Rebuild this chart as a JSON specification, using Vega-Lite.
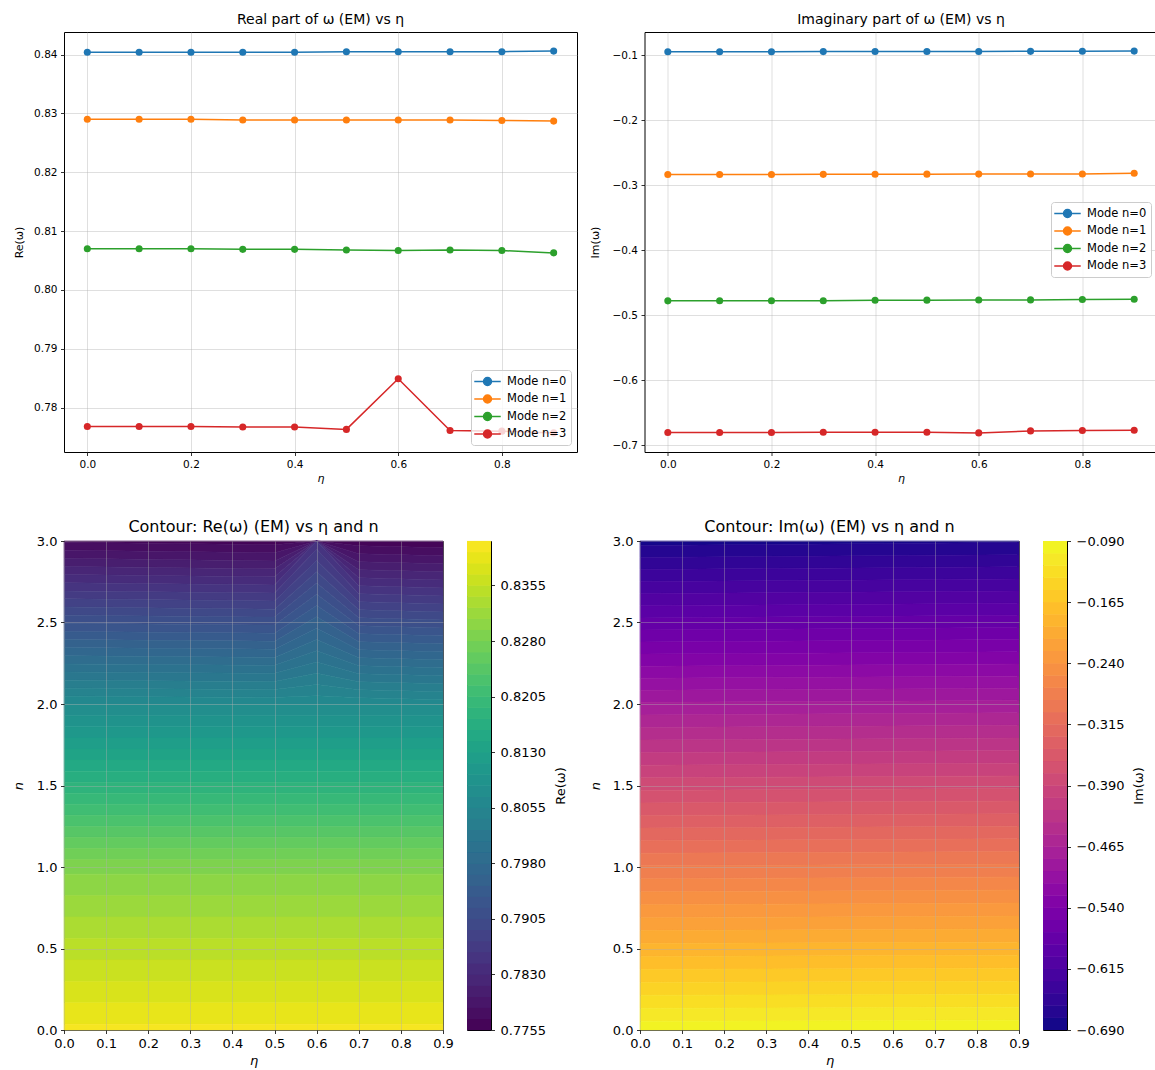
{
"$schema": "https://vega.github.io/schema/vega-lite/v6.json",
"background": "white",
"padding": {"left": 12, "top": 12, "right": 0, "bottom": 0},
"config": {
  "font": "DejaVu Sans",
  "view": {"stroke": "#000000", "strokeWidth": 1},
  "axis": {"domain": false, "tickColor": "#000000", "tickSize": 3.5, "tickWidth": 0.8, "labelColor": "#000000", "titleColor": "#000000", "titleFontWeight": "normal", "labelPadding": 3.5, "labelFlush": false, "labelOverlap": false, "gridColor": "#b0b0b0", "gridOpacity": 0.5, "gridWidth": 0.8},
  "title": {"fontWeight": "normal", "color": "#000000", "anchor": "middle"}
},
"datasets": {
  "modes": [
    {"eta":0,"mode":"Mode n=0","re":0.8404,"im":-0.0949},{"eta":0.1,"mode":"Mode n=0","re":0.8404,"im":-0.0948},{"eta":0.2,"mode":"Mode n=0","re":0.8404,"im":-0.0947},{"eta":0.3,"mode":"Mode n=0","re":0.8404,"im":-0.0946},{"eta":0.4,"mode":"Mode n=0","re":0.8404,"im":-0.0945},{"eta":0.5,"mode":"Mode n=0","re":0.8405,"im":-0.0944},{"eta":0.6,"mode":"Mode n=0","re":0.8405,"im":-0.0943},{"eta":0.7,"mode":"Mode n=0","re":0.8405,"im":-0.0942},{"eta":0.8,"mode":"Mode n=0","re":0.8405,"im":-0.0941},{"eta":0.9,"mode":"Mode n=0","re":0.8406,"im":-0.0938},
    {"eta":0,"mode":"Mode n=1","re":0.8290,"im":-0.2836},{"eta":0.1,"mode":"Mode n=1","re":0.8290,"im":-0.2835},{"eta":0.2,"mode":"Mode n=1","re":0.8290,"im":-0.2835},{"eta":0.3,"mode":"Mode n=1","re":0.8289,"im":-0.2834},{"eta":0.4,"mode":"Mode n=1","re":0.8289,"im":-0.2833},{"eta":0.5,"mode":"Mode n=1","re":0.8289,"im":-0.2831},{"eta":0.6,"mode":"Mode n=1","re":0.8289,"im":-0.2830},{"eta":0.7,"mode":"Mode n=1","re":0.8289,"im":-0.2829},{"eta":0.8,"mode":"Mode n=1","re":0.8288,"im":-0.2828},{"eta":0.9,"mode":"Mode n=1","re":0.8287,"im":-0.2818},
    {"eta":0,"mode":"Mode n=2","re":0.8070,"im":-0.4780},{"eta":0.1,"mode":"Mode n=2","re":0.8070,"im":-0.4779},{"eta":0.2,"mode":"Mode n=2","re":0.8070,"im":-0.4778},{"eta":0.3,"mode":"Mode n=2","re":0.8069,"im":-0.4777},{"eta":0.4,"mode":"Mode n=2","re":0.8069,"im":-0.4770},{"eta":0.5,"mode":"Mode n=2","re":0.8068,"im":-0.4769},{"eta":0.6,"mode":"Mode n=2","re":0.8067,"im":-0.4768},{"eta":0.7,"mode":"Mode n=2","re":0.8068,"im":-0.4765},{"eta":0.8,"mode":"Mode n=2","re":0.8067,"im":-0.4760},{"eta":0.9,"mode":"Mode n=2","re":0.8063,"im":-0.4754},
    {"eta":0,"mode":"Mode n=3","re":0.7768,"im":-0.6805},{"eta":0.1,"mode":"Mode n=3","re":0.7768,"im":-0.6805},{"eta":0.2,"mode":"Mode n=3","re":0.7768,"im":-0.6805},{"eta":0.3,"mode":"Mode n=3","re":0.7767,"im":-0.6800},{"eta":0.4,"mode":"Mode n=3","re":0.7767,"im":-0.6800},{"eta":0.5,"mode":"Mode n=3","re":0.7763,"im":-0.6800},{"eta":0.6,"mode":"Mode n=3","re":0.7849,"im":-0.6811},{"eta":0.7,"mode":"Mode n=3","re":0.7761,"im":-0.6780},{"eta":0.8,"mode":"Mode n=3","re":0.7760,"im":-0.6774},{"eta":0.9,"mode":"Mode n=3","re":0.7757,"im":-0.6769}
  ],
  "reContour": [
    {"eta":0,"nLo":2.993,"nHi":3,"level":0.77625},{"eta":0.5,"nLo":2.977,"nHi":3,"level":0.77625},{"eta":0.6,"nLo":3,"nHi":3,"level":0.77625},{"eta":0.7,"nLo":2.971,"nHi":3,"level":0.77625},{"eta":0.9,"nLo":2.958,"nHi":3,"level":0.77625},
    {"eta":0,"nLo":2.944,"nHi":2.993,"level":0.77775},{"eta":0.5,"nLo":2.928,"nHi":2.977,"level":0.77775},{"eta":0.6,"nLo":3,"nHi":3,"level":0.77775},{"eta":0.7,"nLo":2.922,"nHi":2.971,"level":0.77775},{"eta":0.9,"nLo":2.909,"nHi":2.958,"level":0.77775},
    {"eta":0,"nLo":2.894,"nHi":2.944,"level":0.77925},{"eta":0.5,"nLo":2.878,"nHi":2.928,"level":0.77925},{"eta":0.6,"nLo":3,"nHi":3,"level":0.77925},{"eta":0.7,"nLo":2.873,"nHi":2.922,"level":0.77925},{"eta":0.9,"nLo":2.860,"nHi":2.909,"level":0.77925},
    {"eta":0,"nLo":2.844,"nHi":2.894,"level":0.78075},{"eta":0.5,"nLo":2.829,"nHi":2.878,"level":0.78075},{"eta":0.6,"nLo":3,"nHi":3,"level":0.78075},{"eta":0.7,"nLo":2.824,"nHi":2.873,"level":0.78075},{"eta":0.9,"nLo":2.811,"nHi":2.860,"level":0.78075},
    {"eta":0,"nLo":2.794,"nHi":2.844,"level":0.78225},{"eta":0.5,"nLo":2.780,"nHi":2.829,"level":0.78225},{"eta":0.6,"nLo":3,"nHi":3,"level":0.78225},{"eta":0.7,"nLo":2.775,"nHi":2.824,"level":0.78225},{"eta":0.9,"nLo":2.761,"nHi":2.811,"level":0.78225},
    {"eta":0,"nLo":2.744,"nHi":2.794,"level":0.78375},{"eta":0.5,"nLo":2.730,"nHi":2.780,"level":0.78375},{"eta":0.6,"nLo":3,"nHi":3,"level":0.78375},{"eta":0.7,"nLo":2.726,"nHi":2.775,"level":0.78375},{"eta":0.9,"nLo":2.712,"nHi":2.761,"level":0.78375},
    {"eta":0,"nLo":2.694,"nHi":2.744,"level":0.78525},{"eta":0.5,"nLo":2.681,"nHi":2.730,"level":0.78525},{"eta":0.6,"nLo":2.949,"nHi":3,"level":0.78525},{"eta":0.7,"nLo":2.677,"nHi":2.726,"level":0.78525},{"eta":0.9,"nLo":2.663,"nHi":2.712,"level":0.78525},
    {"eta":0,"nLo":2.645,"nHi":2.694,"level":0.78675},{"eta":0.5,"nLo":2.632,"nHi":2.681,"level":0.78675},{"eta":0.6,"nLo":2.880,"nHi":2.949,"level":0.78675},{"eta":0.7,"nLo":2.628,"nHi":2.677,"level":0.78675},{"eta":0.9,"nLo":2.614,"nHi":2.663,"level":0.78675},
    {"eta":0,"nLo":2.595,"nHi":2.645,"level":0.78825},{"eta":0.5,"nLo":2.582,"nHi":2.632,"level":0.78825},{"eta":0.6,"nLo":2.811,"nHi":2.880,"level":0.78825},{"eta":0.7,"nLo":2.578,"nHi":2.628,"level":0.78825},{"eta":0.9,"nLo":2.565,"nHi":2.614,"level":0.78825},
    {"eta":0,"nLo":2.545,"nHi":2.595,"level":0.78975},{"eta":0.5,"nLo":2.533,"nHi":2.582,"level":0.78975},{"eta":0.6,"nLo":2.742,"nHi":2.811,"level":0.78975},{"eta":0.7,"nLo":2.529,"nHi":2.578,"level":0.78975},{"eta":0.9,"nLo":2.516,"nHi":2.565,"level":0.78975},
    {"eta":0,"nLo":2.495,"nHi":2.545,"level":0.79125},{"eta":0.5,"nLo":2.484,"nHi":2.533,"level":0.79125},{"eta":0.6,"nLo":2.673,"nHi":2.742,"level":0.79125},{"eta":0.7,"nLo":2.480,"nHi":2.529,"level":0.79125},{"eta":0.9,"nLo":2.467,"nHi":2.516,"level":0.79125},
    {"eta":0,"nLo":2.445,"nHi":2.495,"level":0.79275},{"eta":0.5,"nLo":2.434,"nHi":2.484,"level":0.79275},{"eta":0.6,"nLo":2.604,"nHi":2.673,"level":0.79275},{"eta":0.7,"nLo":2.431,"nHi":2.480,"level":0.79275},{"eta":0.9,"nLo":2.418,"nHi":2.467,"level":0.79275},
    {"eta":0,"nLo":2.395,"nHi":2.445,"level":0.79425},{"eta":0.5,"nLo":2.385,"nHi":2.434,"level":0.79425},{"eta":0.6,"nLo":2.535,"nHi":2.604,"level":0.79425},{"eta":0.7,"nLo":2.382,"nHi":2.431,"level":0.79425},{"eta":0.9,"nLo":2.369,"nHi":2.418,"level":0.79425},
    {"eta":0,"nLo":2.346,"nHi":2.395,"level":0.79575},{"eta":0.5,"nLo":2.336,"nHi":2.385,"level":0.79575},{"eta":0.6,"nLo":2.465,"nHi":2.535,"level":0.79575},{"eta":0.7,"nLo":2.333,"nHi":2.382,"level":0.79575},{"eta":0.9,"nLo":2.320,"nHi":2.369,"level":0.79575},
    {"eta":0,"nLo":2.296,"nHi":2.346,"level":0.79725},{"eta":0.5,"nLo":2.286,"nHi":2.336,"level":0.79725},{"eta":0.6,"nLo":2.396,"nHi":2.465,"level":0.79725},{"eta":0.7,"nLo":2.284,"nHi":2.333,"level":0.79725},{"eta":0.9,"nLo":2.271,"nHi":2.320,"level":0.79725},
    {"eta":0,"nLo":2.246,"nHi":2.296,"level":0.79875},{"eta":0.5,"nLo":2.237,"nHi":2.286,"level":0.79875},{"eta":0.6,"nLo":2.327,"nHi":2.396,"level":0.79875},{"eta":0.7,"nLo":2.235,"nHi":2.284,"level":0.79875},{"eta":0.9,"nLo":2.222,"nHi":2.271,"level":0.79875},
    {"eta":0,"nLo":2.196,"nHi":2.246,"level":0.80025},{"eta":0.5,"nLo":2.188,"nHi":2.237,"level":0.80025},{"eta":0.6,"nLo":2.258,"nHi":2.327,"level":0.80025},{"eta":0.7,"nLo":2.186,"nHi":2.235,"level":0.80025},{"eta":0.9,"nLo":2.173,"nHi":2.222,"level":0.80025},
    {"eta":0,"nLo":2.146,"nHi":2.196,"level":0.80175},{"eta":0.5,"nLo":2.138,"nHi":2.188,"level":0.80175},{"eta":0.6,"nLo":2.189,"nHi":2.258,"level":0.80175},{"eta":0.7,"nLo":2.137,"nHi":2.186,"level":0.80175},{"eta":0.9,"nLo":2.124,"nHi":2.173,"level":0.80175},
    {"eta":0,"nLo":2.096,"nHi":2.146,"level":0.80325},{"eta":0.5,"nLo":2.089,"nHi":2.138,"level":0.80325},{"eta":0.6,"nLo":2.120,"nHi":2.189,"level":0.80325},{"eta":0.7,"nLo":2.088,"nHi":2.137,"level":0.80325},{"eta":0.9,"nLo":2.075,"nHi":2.124,"level":0.80325},
    {"eta":0,"nLo":2.047,"nHi":2.096,"level":0.80475},{"eta":0.5,"nLo":2.040,"nHi":2.089,"level":0.80475},{"eta":0.6,"nLo":2.051,"nHi":2.120,"level":0.80475},{"eta":0.7,"nLo":2.039,"nHi":2.088,"level":0.80475},{"eta":0.9,"nLo":2.026,"nHi":2.075,"level":0.80475},
    {"eta":0,"nLo":1.996,"nHi":2.047,"level":0.80625},{"eta":0.5,"nLo":1.996,"nHi":2.040,"level":0.80625},{"eta":0.6,"nLo":1.996,"nHi":2.051,"level":0.80625},{"eta":0.7,"nLo":1.996,"nHi":2.039,"level":0.80625},{"eta":0.9,"nLo":1.996,"nHi":2.026,"level":0.80625},
    {"eta":0,"nLo":1.928,"nHi":1.996,"level":0.80775},{"eta":0.9,"nLo":1.928,"nHi":1.996,"level":0.80775},
    {"eta":0,"nLo":1.860,"nHi":1.928,"level":0.80925},{"eta":0.9,"nLo":1.860,"nHi":1.928,"level":0.80925},
    {"eta":0,"nLo":1.792,"nHi":1.860,"level":0.81075},{"eta":0.9,"nLo":1.792,"nHi":1.860,"level":0.81075},
    {"eta":0,"nLo":1.724,"nHi":1.792,"level":0.81225},{"eta":0.9,"nLo":1.724,"nHi":1.792,"level":0.81225},
    {"eta":0,"nLo":1.656,"nHi":1.724,"level":0.81375},{"eta":0.9,"nLo":1.656,"nHi":1.724,"level":0.81375},
    {"eta":0,"nLo":1.588,"nHi":1.656,"level":0.81525},{"eta":0.9,"nLo":1.588,"nHi":1.656,"level":0.81525},
    {"eta":0,"nLo":1.520,"nHi":1.588,"level":0.81675},{"eta":0.9,"nLo":1.520,"nHi":1.588,"level":0.81675},
    {"eta":0,"nLo":1.453,"nHi":1.520,"level":0.81825},{"eta":0.9,"nLo":1.453,"nHi":1.520,"level":0.81825},
    {"eta":0,"nLo":1.385,"nHi":1.453,"level":0.81975},{"eta":0.9,"nLo":1.385,"nHi":1.453,"level":0.81975},
    {"eta":0,"nLo":1.317,"nHi":1.385,"level":0.82125},{"eta":0.9,"nLo":1.317,"nHi":1.385,"level":0.82125},
    {"eta":0,"nLo":1.249,"nHi":1.317,"level":0.82275},{"eta":0.9,"nLo":1.249,"nHi":1.317,"level":0.82275},
    {"eta":0,"nLo":1.181,"nHi":1.249,"level":0.82425},{"eta":0.9,"nLo":1.181,"nHi":1.249,"level":0.82425},
    {"eta":0,"nLo":1.113,"nHi":1.181,"level":0.82575},{"eta":0.9,"nLo":1.113,"nHi":1.181,"level":0.82575},
    {"eta":0,"nLo":1.045,"nHi":1.113,"level":0.82725},{"eta":0.9,"nLo":1.045,"nHi":1.113,"level":0.82725},
    {"eta":0,"nLo":0.956,"nHi":1.045,"level":0.82875},{"eta":0.9,"nLo":0.956,"nHi":1.045,"level":0.82875},
    {"eta":0,"nLo":0.825,"nHi":0.956,"level":0.83025},{"eta":0.9,"nLo":0.825,"nHi":0.956,"level":0.83025},
    {"eta":0,"nLo":0.693,"nHi":0.825,"level":0.83175},{"eta":0.9,"nLo":0.693,"nHi":0.825,"level":0.83175},
    {"eta":0,"nLo":0.561,"nHi":0.693,"level":0.83325},{"eta":0.9,"nLo":0.561,"nHi":0.693,"level":0.83325},
    {"eta":0,"nLo":0.430,"nHi":0.561,"level":0.83475},{"eta":0.9,"nLo":0.430,"nHi":0.561,"level":0.83475},
    {"eta":0,"nLo":0.298,"nHi":0.430,"level":0.83625},{"eta":0.9,"nLo":0.298,"nHi":0.430,"level":0.83625},
    {"eta":0,"nLo":0.167,"nHi":0.298,"level":0.83775},{"eta":0.9,"nLo":0.167,"nHi":0.298,"level":0.83775},
    {"eta":0,"nLo":0.035,"nHi":0.167,"level":0.83925},{"eta":0.9,"nLo":0.035,"nHi":0.167,"level":0.83925},
    {"eta":0,"nLo":0,"nHi":0.035,"level":0.84075},{"eta":0.9,"nLo":0,"nHi":0.035,"level":0.84075}
  ],
  "imContour": [
    {"eta":0,"nLo":2.973,"nHi":3,"level":-0.6825},{"eta":0.9,"nLo":2.991,"nHi":3,"level":-0.6825},
    {"eta":0,"nLo":2.899,"nHi":2.973,"level":-0.6675},{"eta":0.9,"nLo":2.916,"nHi":2.991,"level":-0.6675},
    {"eta":0,"nLo":2.825,"nHi":2.899,"level":-0.6525},{"eta":0.9,"nLo":2.842,"nHi":2.916,"level":-0.6525},
    {"eta":0,"nLo":2.751,"nHi":2.825,"level":-0.6375},{"eta":0.9,"nLo":2.767,"nHi":2.842,"level":-0.6375},
    {"eta":0,"nLo":2.677,"nHi":2.751,"level":-0.6225},{"eta":0.9,"nLo":2.693,"nHi":2.767,"level":-0.6225},
    {"eta":0,"nLo":2.603,"nHi":2.677,"level":-0.6075},{"eta":0.9,"nLo":2.618,"nHi":2.693,"level":-0.6075},
    {"eta":0,"nLo":2.528,"nHi":2.603,"level":-0.5925},{"eta":0.9,"nLo":2.544,"nHi":2.618,"level":-0.5925},
    {"eta":0,"nLo":2.454,"nHi":2.528,"level":-0.5775},{"eta":0.9,"nLo":2.469,"nHi":2.544,"level":-0.5775},
    {"eta":0,"nLo":2.380,"nHi":2.454,"level":-0.5625},{"eta":0.9,"nLo":2.395,"nHi":2.469,"level":-0.5625},
    {"eta":0,"nLo":2.306,"nHi":2.380,"level":-0.5475},{"eta":0.9,"nLo":2.320,"nHi":2.395,"level":-0.5475},
    {"eta":0,"nLo":2.232,"nHi":2.306,"level":-0.5325},{"eta":0.9,"nLo":2.246,"nHi":2.320,"level":-0.5325},
    {"eta":0,"nLo":2.158,"nHi":2.232,"level":-0.5175},{"eta":0.9,"nLo":2.171,"nHi":2.246,"level":-0.5175},
    {"eta":0,"nLo":2.084,"nHi":2.158,"level":-0.5025},{"eta":0.9,"nLo":2.097,"nHi":2.171,"level":-0.5025},
    {"eta":0,"nLo":2.010,"nHi":2.084,"level":-0.4875},{"eta":0.9,"nLo":2.022,"nHi":2.097,"level":-0.4875},
    {"eta":0,"nLo":1.933,"nHi":2.010,"level":-0.4725},{"eta":0.9,"nLo":1.946,"nHi":2.022,"level":-0.4725},
    {"eta":0,"nLo":1.856,"nHi":1.933,"level":-0.4575},{"eta":0.9,"nLo":1.869,"nHi":1.946,"level":-0.4575},
    {"eta":0,"nLo":1.779,"nHi":1.856,"level":-0.4425},{"eta":0.9,"nLo":1.791,"nHi":1.869,"level":-0.4425},
    {"eta":0,"nLo":1.702,"nHi":1.779,"level":-0.4275},{"eta":0.9,"nLo":1.714,"nHi":1.791,"level":-0.4275},
    {"eta":0,"nLo":1.625,"nHi":1.702,"level":-0.4125},{"eta":0.9,"nLo":1.637,"nHi":1.714,"level":-0.4125},
    {"eta":0,"nLo":1.547,"nHi":1.625,"level":-0.3975},{"eta":0.9,"nLo":1.559,"nHi":1.637,"level":-0.3975},
    {"eta":0,"nLo":1.470,"nHi":1.547,"level":-0.3825},{"eta":0.9,"nLo":1.482,"nHi":1.559,"level":-0.3825},
    {"eta":0,"nLo":1.393,"nHi":1.470,"level":-0.3675},{"eta":0.9,"nLo":1.405,"nHi":1.482,"level":-0.3675},
    {"eta":0,"nLo":1.316,"nHi":1.393,"level":-0.3525},{"eta":0.9,"nLo":1.327,"nHi":1.405,"level":-0.3525},
    {"eta":0,"nLo":1.239,"nHi":1.316,"level":-0.3375},{"eta":0.9,"nLo":1.250,"nHi":1.327,"level":-0.3375},
    {"eta":0,"nLo":1.162,"nHi":1.239,"level":-0.3225},{"eta":0.9,"nLo":1.173,"nHi":1.250,"level":-0.3225},
    {"eta":0,"nLo":1.084,"nHi":1.162,"level":-0.3075},{"eta":0.9,"nLo":1.095,"nHi":1.173,"level":-0.3075},
    {"eta":0,"nLo":1.007,"nHi":1.084,"level":-0.2925},{"eta":0.9,"nLo":1.018,"nHi":1.095,"level":-0.2925},
    {"eta":0,"nLo":0.928,"nHi":1.007,"level":-0.2775},{"eta":0.9,"nLo":0.939,"nHi":1.018,"level":-0.2775},
    {"eta":0,"nLo":0.848,"nHi":0.928,"level":-0.2625},{"eta":0.9,"nLo":0.859,"nHi":0.939,"level":-0.2625},
    {"eta":0,"nLo":0.769,"nHi":0.848,"level":-0.2475},{"eta":0.9,"nLo":0.779,"nHi":0.859,"level":-0.2475},
    {"eta":0,"nLo":0.689,"nHi":0.769,"level":-0.2325},{"eta":0.9,"nLo":0.699,"nHi":0.779,"level":-0.2325},
    {"eta":0,"nLo":0.610,"nHi":0.689,"level":-0.2175},{"eta":0.9,"nLo":0.619,"nHi":0.699,"level":-0.2175},
    {"eta":0,"nLo":0.531,"nHi":0.610,"level":-0.2025},{"eta":0.9,"nLo":0.539,"nHi":0.619,"level":-0.2025},
    {"eta":0,"nLo":0.451,"nHi":0.531,"level":-0.1875},{"eta":0.9,"nLo":0.459,"nHi":0.539,"level":-0.1875},
    {"eta":0,"nLo":0.372,"nHi":0.451,"level":-0.1725},{"eta":0.9,"nLo":0.379,"nHi":0.459,"level":-0.1725},
    {"eta":0,"nLo":0.292,"nHi":0.372,"level":-0.1575},{"eta":0.9,"nLo":0.299,"nHi":0.379,"level":-0.1575},
    {"eta":0,"nLo":0.213,"nHi":0.292,"level":-0.1425},{"eta":0.9,"nLo":0.220,"nHi":0.299,"level":-0.1425},
    {"eta":0,"nLo":0.133,"nHi":0.213,"level":-0.1275},{"eta":0.9,"nLo":0.140,"nHi":0.220,"level":-0.1275},
    {"eta":0,"nLo":0.054,"nHi":0.133,"level":-0.1125},{"eta":0.9,"nLo":0.060,"nHi":0.140,"level":-0.1125},
    {"eta":0,"nLo":0,"nHi":0.054,"level":-0.0975},{"eta":0.9,"nLo":0,"nHi":0.060,"level":-0.0975}
  ]
},
"spacing": 34,
"vconcat": [
  {
    "hconcat": [
      {
        "width": 513, "height": 420,
        "title": {"text": "Real part of ω (EM) vs η", "fontSize": 14, "offset": 5},
        "data": {"name": "modes"},
        "encoding": {
          "x": {"field": "eta", "type": "quantitative", "scale": {"domain": [-0.045, 0.945], "nice": false, "zero": false}, "axis": {"values": [0, 0.2, 0.4, 0.6, 0.8], "format": ".1f", "title": "η", "titleFontStyle": "italic", "labelFontSize": 10.5, "titleFontSize": 11, "titlePadding": 3}},
          "y": {"field": "re", "type": "quantitative", "scale": {"domain": [0.772455, 0.843845], "nice": false, "zero": false}, "axis": {"values": [0.78, 0.79, 0.8, 0.81, 0.82, 0.83, 0.84], "format": ".2f", "title": "Re(ω)", "labelFontSize": 10.5, "titleFontSize": 11, "minExtent": 31, "maxExtent": 31, "titlePadding": 9}},
          "color": {"field": "mode", "type": "nominal", "scale": {"domain": ["Mode n=0", "Mode n=1", "Mode n=2", "Mode n=3"], "range": ["#1f77b4", "#ff7f0e", "#2ca02c", "#d62728"]}, "legend": {"title": null, "orient": "none", "legendX": 407, "legendY": 338, "fillColor": "rgba(255,255,255,0.8)", "strokeColor": "#cccccc", "cornerRadius": 3, "padding": 4, "labelFontSize": 11.5, "labelColor": "#000000", "symbolType": "M-2,0L2,0M-0.6,0A0.6,0.6,0,1,1,0.6,0A0.6,0.6,0,1,1,-0.6,0Z", "symbolSize": 175, "symbolStrokeWidth": 1.5, "symbolOpacity": 1, "rowPadding": 2.5, "labelOffset": 12, "symbolOffset": 5}}
        },
        "layer": [
          {"mark": {"type": "line", "strokeWidth": 1.5}},
          {"mark": {"type": "point", "filled": true, "size": 50, "opacity": 1}}
        ]
      },
      {
        "width": 513, "height": 420,
        "title": {"text": "Imaginary part of ω (EM) vs η", "fontSize": 14, "offset": 5},
        "data": {"name": "modes"},
        "encoding": {
          "x": {"field": "eta", "type": "quantitative", "scale": {"domain": [-0.045, 0.945], "nice": false, "zero": false}, "axis": {"values": [0, 0.2, 0.4, 0.6, 0.8], "format": ".1f", "title": "η", "titleFontStyle": "italic", "labelFontSize": 10.5, "titleFontSize": 11, "titlePadding": 3}},
          "y": {"field": "im", "type": "quantitative", "scale": {"domain": [-0.71047, -0.06443], "nice": false, "zero": false}, "axis": {"values": [-0.7, -0.6, -0.5, -0.4, -0.3, -0.2, -0.1], "format": ".1f", "title": "Im(ω)", "labelFontSize": 10.5, "titleFontSize": 11, "minExtent": 34, "maxExtent": 34, "titlePadding": 9.6}},
          "color": {"field": "mode", "type": "nominal", "scale": {"domain": ["Mode n=0", "Mode n=1", "Mode n=2", "Mode n=3"], "range": ["#1f77b4", "#ff7f0e", "#2ca02c", "#d62728"]}, "legend": {"title": null, "orient": "none", "legendX": 406.5, "legendY": 170, "fillColor": "rgba(255,255,255,0.8)", "strokeColor": "#cccccc", "cornerRadius": 3, "padding": 4, "labelFontSize": 11.5, "labelColor": "#000000", "symbolType": "M-2,0L2,0M-0.6,0A0.6,0.6,0,1,1,0.6,0A0.6,0.6,0,1,1,-0.6,0Z", "symbolSize": 175, "symbolStrokeWidth": 1.5, "symbolOpacity": 1, "rowPadding": 2.5, "labelOffset": 12, "symbolOffset": 5}}
        },
        "layer": [
          {"mark": {"type": "line", "strokeWidth": 1.5}},
          {"mark": {"type": "point", "filled": true, "size": 50, "opacity": 1}}
        ]
      }
    ],
    "spacing": 10.5,
    "resolve": {"scale": {"color": "independent", "x": "independent", "y": "independent"}, "legend": {"color": "independent"}}
  },
  {
    "hconcat": [
      {
        "hconcat": [
          {
            "width": 379, "height": 489,
            "title": {"text": "Contour: Re(ω) (EM) vs η and n", "fontSize": 16, "offset": 0},
            "data": {"name": "reContour"},
            "mark": {"type": "area", "strokeWidth": 0.6},
            "encoding": {
              "x": {"field": "eta", "type": "quantitative", "scale": {"domain": [0, 0.9], "nice": false, "zero": false}, "axis": {"values": [0, 0.1, 0.2, 0.3, 0.4, 0.5, 0.6, 0.7, 0.8, 0.9], "format": ".1f", "title": "η", "titleFontStyle": "italic", "labelFontSize": 13, "titleFontSize": 13, "titlePadding": 4, "zindex": 1}},
              "y": {"field": "nLo", "type": "quantitative", "stack": null, "scale": {"domain": [0, 3], "nice": false, "zero": false}, "axis": {"values": [0, 0.5, 1, 1.5, 2, 2.5, 3], "format": ".1f", "title": "n", "titleFontStyle": "italic", "labelFontSize": 13, "titleFontSize": 13, "minExtent": 28, "maxExtent": 28, "titlePadding": 10.5, "zindex": 1}},
              "y2": {"field": "nHi"},
              "color": {"field": "level", "type": "quantitative", "scale": {"scheme": "viridis", "domain": [0.7755, 0.8415]}, "legend": null},
              "stroke": {"field": "level", "type": "quantitative", "scale": {"scheme": "viridis", "domain": [0.7755, 0.8415]}, "legend": null},
              "detail": {"field": "level", "type": "nominal"}
            }
          },
          {
            "width": 24, "height": 489,
            "data": {"name": "reContour"},
            "mark": {"type": "rule", "strokeWidth": 11.2},
            "encoding": {
              "y": {"field": "level", "type": "quantitative", "scale": {"domain": [0.7755, 0.8415], "nice": false, "zero": false}, "axis": {"orient": "right", "values": [0.7755, 0.783, 0.7905, 0.798, 0.8055, 0.813, 0.8205, 0.828, 0.8355], "format": ".4f", "title": "Re(ω)", "titleAngle": -90, "titleBaseline": "top", "labelFontSize": 13, "titleFontSize": 13, "labelPadding": 5.5, "grid": false, "minExtent": 50, "maxExtent": 50, "titlePadding": 13}},
              "color": {"field": "level", "type": "quantitative", "scale": {"scheme": "viridis", "domain": [0.7755, 0.8415]}, "legend": null}
            }
          }
        ],
        "spacing": 6
      },
      {
        "hconcat": [
          {
            "width": 379, "height": 489,
            "title": {"text": "Contour: Im(ω) (EM) vs η and n", "fontSize": 16, "offset": 0},
            "data": {"name": "imContour"},
            "mark": {"type": "area", "strokeWidth": 0.6},
            "encoding": {
              "x": {"field": "eta", "type": "quantitative", "scale": {"domain": [0, 0.9], "nice": false, "zero": false}, "axis": {"values": [0, 0.1, 0.2, 0.3, 0.4, 0.5, 0.6, 0.7, 0.8, 0.9], "format": ".1f", "title": "η", "titleFontStyle": "italic", "labelFontSize": 13, "titleFontSize": 13, "titlePadding": 4, "zindex": 1}},
              "y": {"field": "nLo", "type": "quantitative", "stack": null, "scale": {"domain": [0, 3], "nice": false, "zero": false}, "axis": {"values": [0, 0.5, 1, 1.5, 2, 2.5, 3], "format": ".1f", "title": "n", "titleFontStyle": "italic", "labelFontSize": 13, "titleFontSize": 13, "minExtent": 28, "maxExtent": 28, "titlePadding": 10, "zindex": 1}},
              "y2": {"field": "nHi"},
              "color": {"field": "level", "type": "quantitative", "scale": {"scheme": "plasma", "domain": [-0.69, -0.09]}, "legend": null},
              "stroke": {"field": "level", "type": "quantitative", "scale": {"scheme": "plasma", "domain": [-0.69, -0.09]}, "legend": null},
              "detail": {"field": "level", "type": "nominal"}
            }
          },
          {
            "width": 24, "height": 489,
            "data": {"name": "imContour"},
            "mark": {"type": "rule", "strokeWidth": 12.23},
            "encoding": {
              "y": {"field": "level", "type": "quantitative", "scale": {"domain": [-0.69, -0.09], "nice": false, "zero": false}, "axis": {"orient": "right", "values": [-0.69, -0.615, -0.54, -0.465, -0.39, -0.315, -0.24, -0.165, -0.09], "format": ".3f", "title": "Im(ω)", "titleAngle": -90, "titleBaseline": "top", "labelFontSize": 13, "titleFontSize": 13, "labelPadding": 5.5, "grid": false, "minExtent": 52, "maxExtent": 52, "titlePadding": 13.5}},
              "color": {"field": "level", "type": "quantitative", "scale": {"scheme": "plasma", "domain": [-0.69, -0.09]}, "legend": null}
            }
          }
        ],
        "spacing": 6
      }
    ],
    "spacing": 20,
    "resolve": {"scale": {"color": "independent", "stroke": "independent", "x": "independent", "y": "independent"}}
  }
]
}
